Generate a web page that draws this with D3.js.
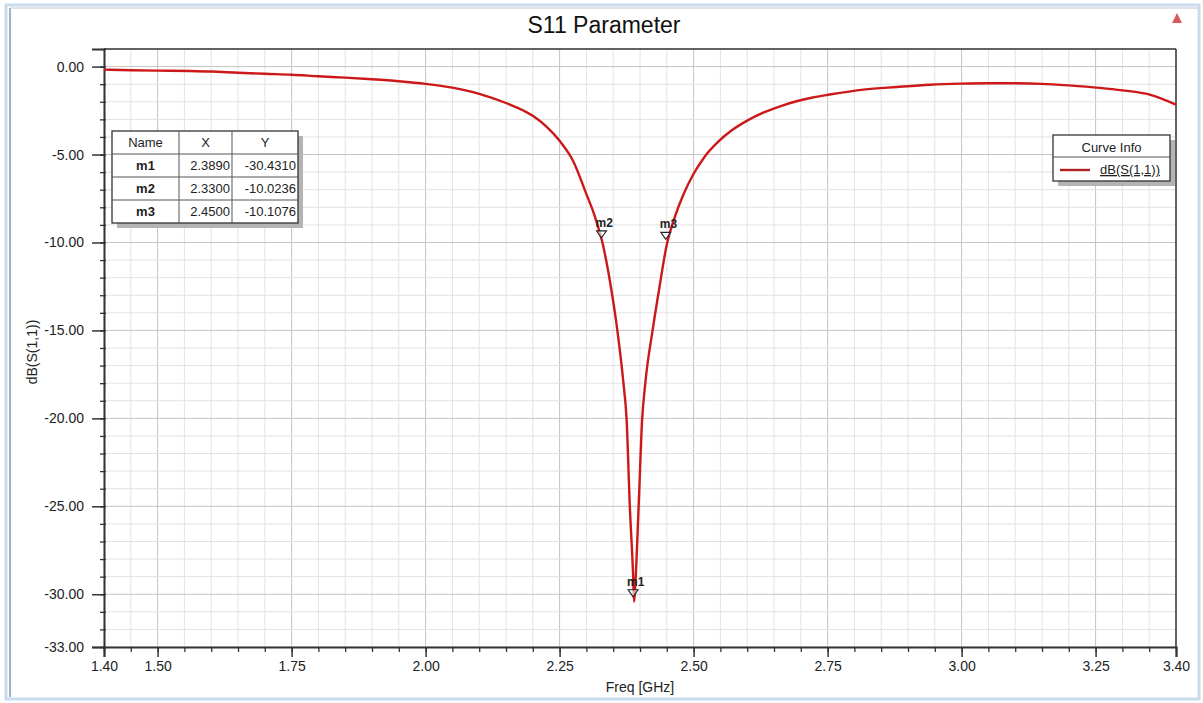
<!DOCTYPE html>
<html><head><meta charset="utf-8">
<script src="https://cdn.jsdelivr.net/npm/d3@7"></script>
<style>body{margin:0;background:#fff;} svg{display:block;font-family:Arial,"Liberation Sans",sans-serif;}</style>
</head><body>
<svg id="chart" width="1203" height="703"></svg>
<script>
// ---- data ----
const freq = [1.40,1.45,1.50,1.56,1.60,1.65,1.70,1.75,1.80,1.85,1.90,1.95,2.00,2.05,2.10,2.15,2.20,2.225,2.25,2.275,2.30,2.315,2.33,2.345,2.356,2.369,2.375,2.381,2.387,2.389,2.391,2.3975,2.404,2.410,2.424,2.436,2.45,2.465,2.481,2.499,2.52,2.545,2.57,2.60,2.63,2.66,2.692,2.72,2.754,2.817,2.879,2.941,3.00,3.05,3.10,3.15,3.20,3.258,3.30,3.351,3.40];
const s11 = [-0.17,-0.21,-0.23,-0.25,-0.28,-0.35,-0.41,-0.46,-0.55,-0.63,-0.72,-0.83,-0.98,-1.20,-1.55,-2.07,-2.80,-3.40,-4.22,-5.35,-7.25,-8.45,-10.02,-12.4,-14.6,-17.97,-20.06,-24.98,-28.8,-30.43,-29.6,-24.98,-20.06,-17.97,-14.9,-12.6,-10.11,-8.55,-7.27,-6.15,-5.15,-4.30,-3.65,-3.07,-2.62,-2.27,-1.97,-1.77,-1.59,-1.31,-1.16,-1.03,-0.97,-0.95,-0.95,-0.98,-1.07,-1.21,-1.35,-1.59,-2.16];
const markerNames = ["m1","m2","m3"];
const markerX = [2.3890,2.3300,2.4500];
const markerY = [-30.4310,-10.0236,-10.1076];
const xTickLabels = [1.40,1.50,1.75,2.00,2.25,2.50,2.75,3.00,3.25,3.40];
const yTickLabels = [0,-5,-10,-15,-20,-25,-30,-33];
const curveName = "dB(S(1,1))";

const FONT = 'Arial,"Liberation Sans",sans-serif';
const fmt = d => d3.format(".2f")(d).replace("\u2212","-");
const svg = d3.select("#chart");
const x = d3.scaleLinear().domain([1.40,3.40]).range([104,1176]);
const y = d3.scaleLinear().domain([-33,1]).range([647,49]);

// frame
svg.append("rect").attr("x",6).attr("y",5).attr("width",1193).attr("height",694)
  .attr("fill","#fff").attr("stroke","#c9dcee").attr("stroke-width",3);
svg.append("line").attr("x1",10).attr("x2",10).attr("y1",8).attr("y2",697).attr("stroke","#8796a8").attr("stroke-width",1.5);
svg.append("line").attr("x1",10).attr("x2",1198).attr("y1",8).attr("y2",8).attr("stroke","#c0c8d0").attr("stroke-width",1);

// grid
const xMinor = d3.range(0,41).map(i=>1.40+i*0.05);
const yMinor = d3.range(-33,2);
const isMajX = v => Math.abs(v*4-Math.round(v*4))<1e-6;
svg.append("g").selectAll("line").data(xMinor).join("line")
  .attr("x1",d=>x(d)).attr("x2",d=>x(d)).attr("y1",y(1)).attr("y2",y(-33))
  .attr("stroke",d=>isMajX(d)?"#c4c4c4":"#e2e2e2").attr("stroke-width",1);
svg.append("g").selectAll("line").data(yMinor).join("line")
  .attr("x1",x(1.4)).attr("x2",x(3.4)).attr("y1",d=>y(d)).attr("y2",d=>y(d))
  .attr("stroke",d=>d%5===0?"#c4c4c4":"#e2e2e2").attr("stroke-width",1);

// plot border
svg.append("line").attr("x1",x(1.4)).attr("x2",x(3.4)).attr("y1",y(1)).attr("y2",y(1)).attr("stroke","#333").attr("stroke-width",1.5);
svg.append("line").attr("x1",x(3.4)).attr("x2",x(3.4)).attr("y1",y(1)).attr("y2",y(-33)).attr("stroke","#333").attr("stroke-width",1.5);

// axes
const xAxis = d3.axisBottom(x).tickValues(xTickLabels).tickFormat(fmt).tickSize(10).tickPadding(4);
const gx = svg.append("g").attr("transform",`translate(0,${y(-33)})`).call(xAxis);
gx.select(".domain").attr("stroke","#333").attr("stroke-width",2);
gx.selectAll(".tick line").attr("stroke","#333").attr("stroke-width",1.5);
gx.selectAll("text").attr("font-size",14).attr("fill","#222").attr("font-family",FONT);
const xMinorAxis = d3.axisBottom(x).tickValues(xMinor).tickFormat("").tickSize(5);
const gxm = svg.append("g").attr("transform",`translate(0,${y(-33)})`).call(xMinorAxis);
gxm.select(".domain").remove();
gxm.selectAll(".tick line").attr("stroke","#333").attr("stroke-width",1.3);

const yAxis = d3.axisLeft(y).tickValues(yTickLabels).tickFormat(fmt).tickSize(12).tickPadding(8);
const gy = svg.append("g").attr("transform",`translate(${x(1.4)},0)`).call(yAxis);
gy.select(".domain").attr("stroke","#333").attr("stroke-width",2);
gy.selectAll(".tick line").attr("stroke","#333").attr("stroke-width",1.5);
gy.selectAll("text").attr("font-size",14).attr("fill","#222").attr("font-family",FONT);
const yMinorAxis = d3.axisLeft(y).tickValues(yMinor).tickFormat("").tickSize(6);
const gym = svg.append("g").attr("transform",`translate(${x(1.4)+2},0)`).call(yMinorAxis);
gym.select(".domain").remove();
gym.selectAll(".tick line").attr("stroke","#333").attr("stroke-width",1.3);

// axis titles
svg.append("text").attr("x",640).attr("y",692).attr("text-anchor","middle").attr("font-size",14).attr("fill","#222").text("Freq [GHz]");
svg.append("text").attr("transform","translate(37,352) rotate(-90)").attr("text-anchor","middle").attr("font-size",14).attr("fill","#222").text(curveName);

// title
svg.append("text").attr("x",604).attr("y",33).attr("text-anchor","middle").attr("font-size",23).attr("fill","#111").text("S11 Parameter");
// small red icon
svg.append("path").attr("d","M1177,13 L1182,23 L1172,23 Z").attr("fill","#d85a5a");

// curve
const pts = freq.map((f,i)=>[f,s11[i]]);
const line = d3.line().x(d=>x(d[0])).y(d=>y(d[1])).curve(d3.curveMonotoneX);
svg.append("path").datum(pts).attr("d",line).attr("fill","none").attr("stroke","#cc1818").attr("stroke-width",2.4);

// markers
markerNames.forEach((n,i)=>{
  const px = x(markerX[i]), py = y(markerY[i]);
  svg.append("path").attr("d",`M${px-1},${py-5} L${px-6},${py-12} L${px+4},${py-12} Z`)
    .attr("fill","#fff").attr("fill-opacity",0.6).attr("stroke","#222").attr("stroke-width",1.1);
  svg.append("text").attr("x",px-7).attr("y",py-16).attr("font-size",12).attr("font-weight","bold").attr("fill","#222").text(n);
});

// marker table
const tx=112, ty=131, colW=[67,53,66], rowH=23;
const tw = colW.reduce((a,b)=>a+b,0), th=rowH*4;
svg.append("rect").attr("x",tx+5).attr("y",ty+5).attr("width",tw).attr("height",th).attr("fill","#b4b4b4");
svg.append("rect").attr("x",tx).attr("y",ty).attr("width",tw).attr("height",th).attr("fill","#fff").attr("stroke","#333").attr("stroke-width",1.3);
let cx = tx;
colW.slice(0,2).forEach(w=>{cx+=w; svg.append("line").attr("x1",cx).attr("x2",cx).attr("y1",ty).attr("y2",ty+th).attr("stroke","#555");});
for(let r=1;r<4;r++) svg.append("line").attr("x1",tx).attr("x2",tx+tw).attr("y1",ty+r*rowH).attr("y2",ty+r*rowH).attr("stroke","#555");
const hdr=["Name","X","Y"];
let hx=tx;
hdr.forEach((h,j)=>{svg.append("text").attr("x",hx+colW[j]/2).attr("y",ty+16).attr("text-anchor","middle").attr("font-size",13).attr("fill","#222").text(h); hx+=colW[j];});
markerNames.forEach((n,i)=>{
  const ry = ty+(i+1)*rowH+16;
  svg.append("text").attr("x",tx+colW[0]/2).attr("y",ry).attr("text-anchor","middle").attr("font-size",13).attr("font-weight","bold").attr("fill","#222").text(n);
  svg.append("text").attr("x",tx+colW[0]+colW[1]-2).attr("y",ry).attr("text-anchor","end").attr("font-size",13).attr("fill","#222").text(markerX[i].toFixed(4));
  svg.append("text").attr("x",tx+tw-2).attr("y",ry).attr("text-anchor","end").attr("font-size",13).attr("fill","#222").text(markerY[i].toFixed(4));
});

// legend
const lx=1053, ly=135, lw=117, lh=46;
svg.append("rect").attr("x",lx+5).attr("y",ly+5).attr("width",lw).attr("height",lh).attr("fill","#b4b4b4");
svg.append("rect").attr("x",lx).attr("y",ly).attr("width",lw).attr("height",lh).attr("fill","#fff").attr("stroke","#333").attr("stroke-width",1.3);
svg.append("line").attr("x1",lx).attr("x2",lx+lw).attr("y1",ly+22).attr("y2",ly+22).attr("stroke","#555");
svg.append("text").attr("x",lx+lw/2).attr("y",ly+17).attr("text-anchor","middle").attr("font-size",13).attr("fill","#222").text("Curve Info");
svg.append("line").attr("x1",lx+7).attr("x2",lx+37).attr("y1",ly+35).attr("y2",ly+35).attr("stroke","#b02020").attr("stroke-width",2.4);
svg.append("text").attr("x",lx+47).attr("y",ly+39).attr("font-size",13).attr("fill","#222").attr("text-decoration","underline").text(curveName);
</script>
</body></html>
